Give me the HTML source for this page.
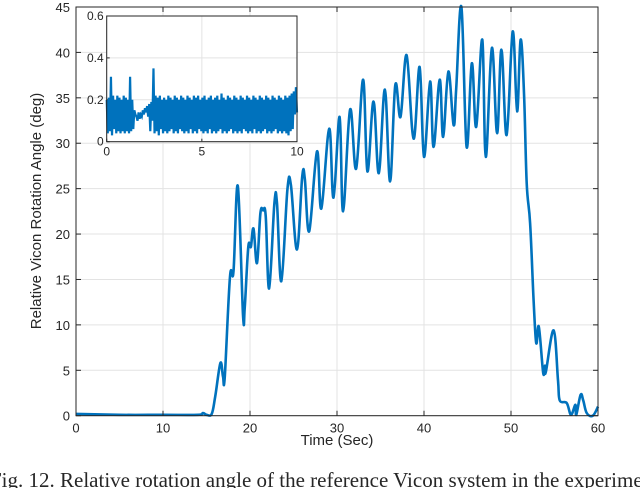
<!DOCTYPE html>
<html><head><meta charset="utf-8"><style>
body{margin:0;background:#fff;width:640px;height:488px;overflow:hidden}
svg text{font-family:"Liberation Sans",sans-serif;fill:#262626}
</style></head><body>
<svg id="chart" width="640" height="488" xmlns="http://www.w3.org/2000/svg">
<g id="main-grid"></g>
<g id="main-plot"></g>
<g id="main-axes"></g>
<text x="337" y="445" font-size="15" text-anchor="middle">Time (Sec)</text>
<text x="0" y="0" font-size="15" text-anchor="middle" transform="translate(41,211) rotate(-90)">Relative Vicon Rotation Angle (deg)</text>
<g id="inset"></g>
<text x="-10" y="487" font-size="21" style="font-family:'Liberation Serif',serif">Fig. 12. Relative rotation angle of the reference Vicon system in the experiment</text>
</svg>
<script>
const timeSec=[0,5,10,14,14.6,15,15.6,16.0,16.6,16.9,17.1,17.7,18.1,18.6,19.2,19.4,19.8,20.1,20.4,20.8,21.2,21.5,21.8,22.2,22.8,23.1,23.6,24.3,24.7,25.4,26.0,26.3,26.8,27.7,28.2,29.1,29.6,30.3,30.7,31.5,32.2,33.0,33.5,34.2,34.8,35.5,36.1,36.7,37.3,38.0,38.8,39.5,40.0,40.7,41.1,41.8,42.2,42.8,43.4,43.7,44.3,44.9,45.5,46.0,46.7,47.1,47.8,48.4,48.9,49.5,50.2,50.7,51.1,51.5,51.8,52.2,52.6,52.9,53.2,53.7,53.9,54.0,54.9,55.4,55.6,56.4,56.9,57.4,57.5,58.0,58.3,58.7,59.4,60];
const angleDeg=[0.2,0.1,0.1,0.1,0.3,0.1,0.2,2.1,5.8,4.3,4.3,15.3,15.9,25.3,11.1,12,18.6,18.6,20.6,16.8,22.3,22.6,22,14.0,23.4,23.4,14.8,24.9,25.4,18.3,26.3,26.1,20.3,29.1,22.8,31.6,24.0,32.9,22.5,33.7,27.2,37.0,26.9,34.6,26.7,35.9,25.8,36.4,32.9,39.7,30.5,38.4,28.5,36.8,29.6,37.0,30.7,37.9,32.0,36,45.0,29.6,38.8,31.8,41.4,28.5,40.5,31.1,40.3,30.9,42.3,33.5,41.4,35.5,25.6,21.2,12.7,8.0,9.8,4.7,5.5,4.8,9.4,3.9,1.7,1.4,0.1,1.2,0.1,2.3,1.7,0.3,0,1.0];
const xTicks=[0,10,20,30,40,50,60];
const yTicks=[0,5,10,15,20,25,30,35,40,45];
const insetValues=[0.2,0.04,0.21,0.05,0.31,0.03,0.22,0.06,0.2,0.04,0.22,0.05,0.21,0.04,0.2,0.05,0.22,0.04,0.21,0.05,0.2,0.04,0.31,0.05,0.2,0.06,
0.15,0.13,0.12,0.1,0.14,0.11,0.13,0.12,0.15,0.13,0.16,0.14,0.17,0.12,0.18,0.05,0.19,0.1,
0.35,0.04,0.22,0.05,0.21,0.03,0.22,0.06,0.2,0.04,0.21,0.05,0.2,0.04,0.22,0.05,0.21,0.06,0.2,0.04,0.22,0.05,0.21,0.04,0.2,0.06,0.22,0.05,0.21,0.04,0.2,0.05,
0.22,0.04,0.21,0.06,0.2,0.04,0.22,0.05,0.21,0.04,0.22,0.06,0.2,0.05,0.21,0.04,0.22,0.05,0.2,0.04,0.21,0.06,0.22,0.04,0.2,0.05,0.21,0.04,0.22,0.05,0.2,0.06,
0.23,0.04,0.21,0.05,0.2,0.04,0.22,0.05,0.21,0.06,0.2,0.04,0.22,0.05,0.21,0.04,0.2,0.05,0.22,0.04,0.21,0.06,0.2,0.05,0.22,0.04,0.21,0.05,0.2,0.04,0.22,0.06,
0.21,0.04,0.2,0.05,0.22,0.04,0.21,0.05,0.2,0.06,0.22,0.04,0.21,0.05,0.2,0.04,0.22,0.05,0.21,0.06,0.2,0.04,0.22,0.05,0.21,0.04,0.2,0.05,0.22,0.04,0.21,0.03,
0.22,0.05,0.23,0.06,0.24,0.13,0.26,0.14];
const insetXTicks=[0,5,10];
const insetYTicks=[0,0.2,0.4,0.6];
const NS="http://www.w3.org/2000/svg";
function mk(p,tag,attrs){const e=document.createElementNS(NS,tag);for(const k in attrs)e.setAttribute(k,attrs[k]);p.appendChild(e);return e;}
function smoothPath(pts){
 let d='M'+pts[0][0].toFixed(1)+','+pts[0][1].toFixed(1);
 for(let i=0;i<pts.length-1;i++){
  const p0=pts[Math.max(0,i-1)],p1=pts[i],p2=pts[i+1],p3=pts[Math.min(pts.length-1,i+2)];
  const k=0.18;
  const c1=[p1[0]+(p2[0]-p0[0])*k,p1[1]+(p2[1]-p0[1])*k];
  const c2=[p2[0]-(p3[0]-p1[0])*k,p2[1]-(p3[1]-p1[1])*k];
  d+='C'+c1[0].toFixed(1)+','+c1[1].toFixed(1)+' '+c2[0].toFixed(1)+','+c2[1].toFixed(1)+' '+p2[0].toFixed(1)+','+p2[1].toFixed(1);
 }
 return d;
}
const L=76,R=598,T=7,B=415.7;
const xs=t=>L+(t/60)*(R-L), ys=v=>B-(v/45)*(B-T);
const grid=document.getElementById('main-grid'),axes=document.getElementById('main-axes'),plot=document.getElementById('main-plot');
xTicks.forEach(t=>{
 const g=mk(grid,'line',{x1:xs(t),x2:xs(t),y1:T,y2:B,stroke:'#e3e3e3','stroke-width':1});
 
 mk(axes,'line',{x1:xs(t),x2:xs(t),y1:B,y2:B-5,stroke:'#262626'});
 mk(axes,'line',{x1:xs(t),x2:xs(t),y1:T,y2:T+5,stroke:'#262626'});
 const l=mk(axes,'text',{x:xs(t),y:B+17,'font-size':13,'text-anchor':'middle'});l.textContent=t;
 
});
yTicks.forEach(v=>{
 const g=mk(grid,'line',{x1:L,x2:R,y1:ys(v),y2:ys(v),stroke:'#e3e3e3','stroke-width':1});
 
 mk(axes,'line',{x1:L,x2:L+5,y1:ys(v),y2:ys(v),stroke:'#262626'});
 mk(axes,'line',{x1:R,x2:R-5,y1:ys(v),y2:ys(v),stroke:'#262626'});
 const l=mk(axes,'text',{x:L-6,y:ys(v)+5,'font-size':13,'text-anchor':'end'});l.textContent=v;
 
});
const box=mk(axes,'rect',{x:L,y:T,width:R-L,height:B-T,fill:'none',stroke:'#262626','stroke-width':1});

const line=mk(plot,'path',{d:smoothPath(timeSec.map((t,i)=>[xs(t),ys(angleDeg[i])])),fill:'none',stroke:'#0072BD','stroke-width':2.6,'stroke-linejoin':'round'});

const inset=document.getElementById('inset');
const iL=106.7,iR=297,iT=16,iB=141.7;
const ixs=t=>iL+(t/10)*(iR-iL), iys=v=>iB-(v/0.6)*(iB-iT);
const bg=mk(inset,'rect',{x:iL,y:iT,width:iR-iL,height:iB-iT,fill:'#fff'});

insetXTicks.forEach(t=>{
 mk(inset,'line',{x1:ixs(t),x2:ixs(t),y1:iT,y2:iB,stroke:'#e3e3e3'});
 mk(inset,'line',{x1:ixs(t),x2:ixs(t),y1:iB,y2:iB-3,stroke:'#262626'});
 const l=mk(inset,'text',{x:ixs(t),y:iB+14,'font-size':12,'text-anchor':'middle'});l.textContent=t;
 
});
insetYTicks.forEach(v=>{
 mk(inset,'line',{x1:iL,x2:iR,y1:iys(v),y2:iys(v),stroke:'#e3e3e3'});
 mk(inset,'line',{x1:iL,x2:iL+3,y1:iys(v),y2:iys(v),stroke:'#262626'});
 const l=mk(inset,'text',{x:iL-3,y:iys(v)+4,'font-size':12,'text-anchor':'end'});l.textContent=v;
 
});
const n=insetValues.length;
const ip=mk(inset,'path',{d:insetValues.map((v,i)=>(i?'L':'M')+ixs(i*10/(n-1)).toFixed(2)+','+iys(v).toFixed(1)).join(''),fill:'none',stroke:'#0072BD','stroke-width':2.2});

const ib=mk(inset,'rect',{x:iL,y:iT,width:iR-iL,height:iB-iT,fill:'none',stroke:'#262626'});

</script>
</body></html>
